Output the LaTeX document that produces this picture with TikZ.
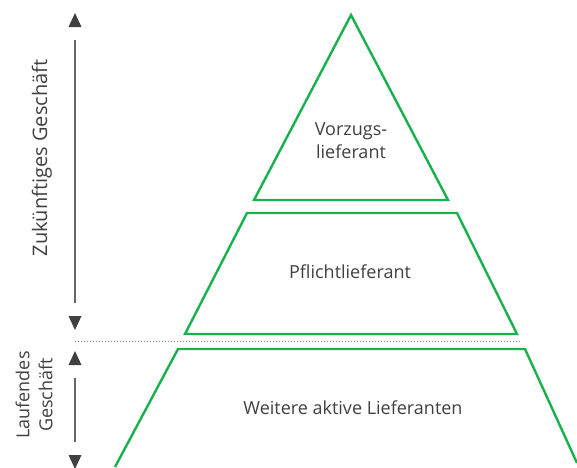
\documentclass[tikz,border=0pt]{standalone}
\usepackage{fontspec}
\setmainfont{Open Sans}
\usepackage{tikz}

\definecolor{pyrgreen}{RGB}{24,178,76}
\definecolor{txtgray}{RGB}{64,64,64}

\tikzset{
  level/.style={draw=pyrgreen, line width=2.4pt, line join=miter},
  lbl/.style={text=txtgray, font=\fontsize{18}{23}\selectfont, align=center, inner sep=0pt},
  scale line/.style={draw=gray!80!black, line width=1.3pt},
  tip/.style={fill=txtgray}
}

\begin{document}
\begin{tikzpicture}[x=1pt, y=-1pt]
  \useasboundingbox (0,0) rectangle (577,467);
  \clip (0,0) rectangle (577,467);

  % pyramid levels
  \draw[level] (351,15) -- (448,200) -- (254,200) -- cycle;
  \draw[level] (247,213) -- (457,213) -- (517,334) -- (185,334) -- cycle;
  \draw[level] (115,467) -- (178,349) -- (525,349) -- (577,463);

  \node[lbl] (top) at (351,141) {Vorzugs-\\lieferant};
  \node[lbl] (mid) at (350,272) {Pflichtlieferant};
  \node[lbl] (low) at (353,408) {Weitere aktive Lieferanten};

  % boundary between future and current business
  \draw[gray, dotted, line width=1pt] (75,341) -- (522,341);

  % left scale, future business
  \coordinate (fa) at (75,40);
  \coordinate (fb) at (75,303);
  \draw[scale line] (fa) -- (fb);
  \fill[tip] (68.5,27) -- (81.5,27) -- (75,13) -- cycle;
  \fill[tip] (68.5,316) -- (81.5,316) -- (75,330) -- cycle;
  \node[lbl, rotate=90, font=\fontsize{20}{24}\selectfont] (future) at (42,158) {Zukünftiges Geschäft};

  % left scale, current business
  \coordinate (ca) at (75,378);
  \coordinate (cb) at (75,442);
  \draw[scale line] (ca) -- (cb);
  \fill[tip] (68.5,365) -- (81.5,365) -- (75,351) -- cycle;
  \fill[tip] (68.5,455) -- (81.5,455) -- (75,469) -- cycle;
  \node[lbl, rotate=90] (current) at (34,395) {Laufendes\\Geschäft};
\end{tikzpicture}
\end{document}
